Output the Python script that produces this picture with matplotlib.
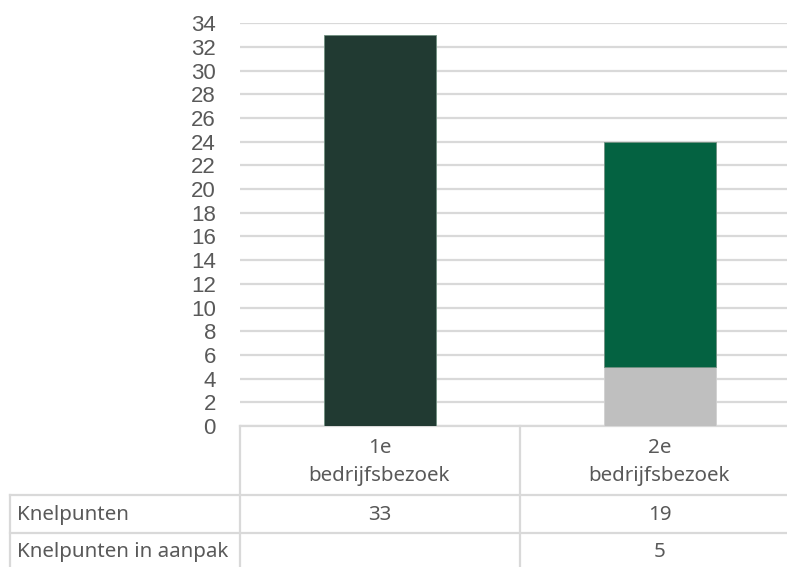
import matplotlib.pyplot as plt
from matplotlib.lines import Line2D
from matplotlib.transforms import blended_transform_factory
import numpy as np

# Chart data
categories = ["1e\nbedrijfsbezoek", "2e\nbedrijfsbezoek"]
row_labels = ["Knelpunten", "Knelpunten in aanpak"]
knelpunten = [33, 19]
in_aanpak = [None, 5]

bar_colors = ["#213a32", "#046241"]
grey = "#bfbfbf"
text_col = "#595959"
line_col = "#d9d9d9"

W, H = 787, 567
fig = plt.figure(figsize=(W / 100, H / 100), dpi=100)


def fx(x):
    return x / W


def fy(y):
    return 1 - y / H


# plot area in pixel terms
ax = fig.add_axes([fx(239.5), fy(426), 560 / W, (426 - 23.3) / H])

x = np.arange(len(categories))
base = np.array([v if v is not None else 0 for v in in_aanpak])
ax.bar(x, base, width=0.4, color=grey, edgecolor="#d0d0d0", linewidth=0.6, zorder=3)
ax.bar(x, knelpunten, bottom=base, width=0.4, color=bar_colors,
       edgecolor="#6f8f80", linewidth=0.6, zorder=3)

ax.set_xlim(-0.5, 1.5)
ax.set_ylim(0, 34)
ax.set_yticks(np.arange(0, 35, 2))
ax.set_xticks([])
ax.yaxis.grid(True, color=line_col, linewidth=1.6, zorder=0)
ax.tick_params(axis="y", length=0, pad=17, labelsize=16, labelcolor=text_col)
for lbl in ax.get_yticklabels():
    lbl.set_fontfamily("Liberation Sans")
for side in ["left", "right", "top"]:
    ax.spines[side].set_visible(False)
ax.spines["bottom"].set_color(line_col)
ax.spines["bottom"].set_linewidth(1.6)

# data table below the plot
lw = 1.6
table_lines = [
    ((239.5, 239.5), (426, 567)),
    ((519.5, 519.5), (426, 567)),
    ((10, 10), (495, 567)),
    ((10, 787), (495, 495)),
    ((10, 787), (533, 533)),
]
for xs, ys in table_lines:
    fig.add_artist(Line2D([fx(v) for v in xs], [fy(v) for v in ys],
                          transform=fig.transFigure, color=line_col, linewidth=lw))

tfont = dict(family="Noto Sans", fontsize=14.8, color=text_col)
trans = blended_transform_factory(ax.transData, fig.transFigure)
for i, cat in enumerate(categories):
    top, bottom = cat.split("\n")
    fig.text(x[i], fy(448), top, transform=trans, ha="center", va="center", **tfont)
    fig.text(x[i], fy(476), bottom, transform=trans, ha="center", va="center", **tfont)
    fig.text(x[i], fy(515), str(knelpunten[i]), transform=trans,
             ha="center", va="center", **tfont)
    if in_aanpak[i] is not None:
        fig.text(x[i], fy(552), str(in_aanpak[i]), transform=trans,
                 ha="center", va="center", **tfont)

fig.text(fx(17), fy(515), row_labels[0], ha="left", va="center", **tfont)
fig.text(fx(17), fy(552), row_labels[1], ha="left", va="center", **tfont)

fig.savefig("out.png", dpi=100)
